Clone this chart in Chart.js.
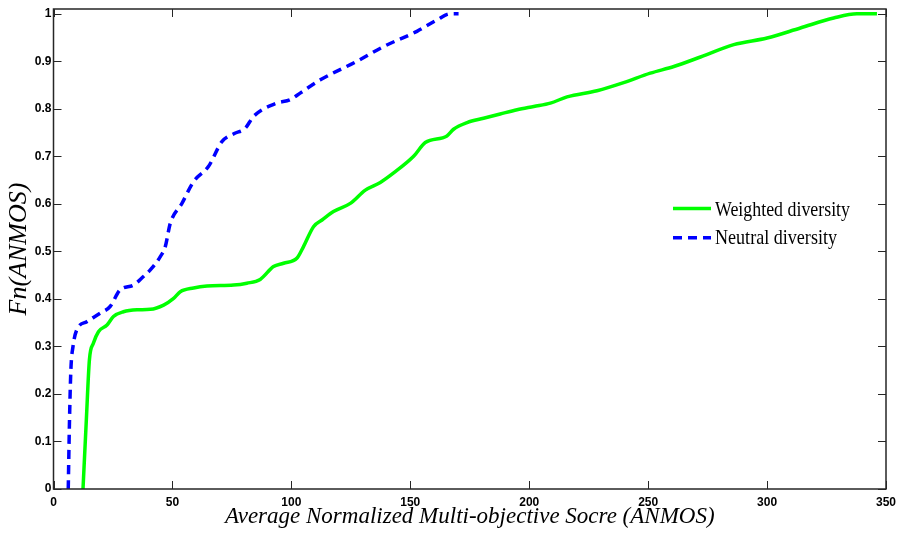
<!DOCTYPE html>
<html>
<head>
<meta charset="utf-8">
<script src="https://cdn.jsdelivr.net/npm/chart.js@4"></script>
<style>
html,body{margin:0;padding:0;background:#fff;}
canvas{display:block;}
</style>
</head>
<body>
<canvas id="c" width="898" height="536"></canvas>
<script>
// ---- data ----
const weightedX = [12.4, 13.8, 15.1, 16.8, 18.9, 22.5, 25.2, 29.4, 35.1, 40.7, 46.3, 50.5, 53.3, 58.9, 64.5, 75.7, 81.3, 86.9, 92.5, 96.7, 102.4, 105.1, 109.3, 112.9, 117.7, 124.8, 131.1, 137.4, 143, 151.4, 156.3, 165.4, 168.2, 173.9, 180.8, 187.8, 194.9, 201.9, 208.9, 215.9, 228.5, 239.7, 250.9, 260.8, 272, 286, 300, 314, 328, 337.8, 346.2];
const weightedY = [0, 0.145, 0.272, 0.307, 0.331, 0.345, 0.363, 0.373, 0.377, 0.378, 0.387, 0.401, 0.415, 0.423, 0.427, 0.429, 0.433, 0.441, 0.468, 0.475, 0.486, 0.510, 0.552, 0.566, 0.584, 0.601, 0.629, 0.645, 0.665, 0.700, 0.729, 0.743, 0.757, 0.771, 0.780, 0.789, 0.798, 0.805, 0.812, 0.825, 0.838, 0.855, 0.875, 0.889, 0.909, 0.935, 0.949, 0.970, 0.991, 1.0, 1.0];
const neutralX = [6.2, 6.7, 7.3, 8.2, 9.8, 14.0, 19.6, 23.8, 28, 33.6, 37.8, 40.7, 44.9, 47, 49.1, 54, 58.9, 65.2, 70.8, 76, 80.6, 84.1, 93.9, 99.5, 103.7, 112.2, 127.6, 138.8, 152.8, 161.2, 166.8, 170.3];
const neutralY = [0, 0.138, 0.25, 0.30, 0.335, 0.352, 0.37, 0.384, 0.419, 0.429, 0.447, 0.461, 0.489, 0.51, 0.559, 0.601, 0.647, 0.679, 0.731, 0.748, 0.759, 0.784, 0.812, 0.819, 0.833, 0.861, 0.900, 0.931, 0.963, 0.987, 1.0, 1.0];
const seriesNames = ["Weighted diversity", "Neutral diversity"];
const xTicks = [0, 50, 100, 150, 200, 250, 300, 350];
const yTicks = [0, 0.1, 0.2, 0.3, 0.4, 0.5, 0.6, 0.7, 0.8, 0.9, 1];
const xTitle = "Average Normalized Multi-objective Socre (ANMOS)";
const yTitle = "Fn(ANMOS)";

const toPts = (xs, ys) => xs.map((x, i) => ({x: x, y: ys[i]}));
const AXIS = '#262626';

const boxTicks = {
  id: 'boxTicks',
  afterDraw(chart) {
    const ctx = chart.ctx, a = chart.chartArea;
    const xs = chart.scales.x, ys = chart.scales.y;
    ctx.save();
    ctx.strokeStyle = AXIS;
    ctx.lineWidth = 1.5;
    ctx.strokeRect(a.left, a.top, a.right - a.left, a.bottom - a.top);
    ctx.lineWidth = 1;
    const L = 8;
    ctx.beginPath();
    xTicks.forEach(v => {
      const p = Math.round(xs.getPixelForValue(v)) + 0.5;
      ctx.moveTo(p, a.bottom); ctx.lineTo(p, a.bottom - L);
      ctx.moveTo(p, a.top); ctx.lineTo(p, a.top + L);
    });
    yTicks.forEach(v => {
      const p = Math.round(ys.getPixelForValue(v)) + 0.5;
      ctx.moveTo(a.left, p); ctx.lineTo(a.left + L, p);
      ctx.moveTo(a.right, p); ctx.lineTo(a.right - L, p);
    });
    ctx.stroke();

    // legend
    const lx0 = 673, lx1 = 711, tx = 715;
    const rows = [{y: 208.5, base: 215.7}, {y: 237.7, base: 244.3}];
    chart.data.datasets.forEach((ds, i) => {
      const r = rows[i];
      ctx.strokeStyle = ds.borderColor;
      ctx.lineWidth = ds.borderWidth;
      ctx.setLineDash(ds.borderDash || []);
      ctx.beginPath();
      ctx.moveTo(lx0, r.y); ctx.lineTo(lx1, r.y);
      ctx.stroke();
      ctx.setLineDash([]);
      ctx.fillStyle = '#000';
      ctx.font = '21px "Liberation Serif"';
      ctx.textBaseline = 'alphabetic';
      ctx.textAlign = 'left';
      ctx.fillText(ds.label, tx, r.base, i === 0 ? 135 : 122);
    });
    ctx.restore();
  }
};

new Chart(document.getElementById('c'), {
  type: 'line',
  data: {
    datasets: [
      {label: seriesNames[0], data: toPts(weightedX, weightedY), borderColor: '#00ff00', borderWidth: 3.5,
       pointRadius: 0, fill: false, cubicInterpolationMode: 'monotone'},
      {label: seriesNames[1], data: toPts(neutralX, neutralY), borderColor: '#0000ff', borderWidth: 3.5,
       borderDash: [9, 6], pointRadius: 0, fill: false, cubicInterpolationMode: 'monotone'}
    ]
  },
  options: {
    responsive: false,
    animation: false,
    layout: {padding: {top: 9, right: 12, left: 0, bottom: 0}},
    plugins: {legend: {display: false}, tooltip: {enabled: false}},
    scales: {
      x: {
        type: 'linear', min: 0, max: 350,
        afterBuildTicks(s) { s.ticks = xTicks.map(v => ({value: v})); },
        ticks: {color: '#000', font: {family: '"Liberation Sans"', size: 12, weight: 'bold'}, padding: 6, maxRotation: 0,
                callback: v => String(v)},
        grid: {drawOnChartArea: false, drawTicks: false},
        border: {display: false},
        title: {display: true, text: xTitle, color: '#000',
                font: {family: '"Liberation Serif"', size: 23, style: 'italic'}, padding: {top: 0, bottom: 5}},
        afterFit(s) { s.height = 47; s.paddingRight = 0; s.paddingLeft = 0; }
      },
      y: {
        type: 'linear', min: 0, max: 1.01,
        afterBuildTicks(s) { s.ticks = yTicks.map(v => ({value: v})); },
        ticks: {color: '#000', font: {family: '"Liberation Sans"', size: 12, weight: 'bold'}, padding: 2,
                callback: v => String(Math.round(v * 10) / 10)},
        grid: {drawOnChartArea: false, drawTicks: false},
        border: {display: false},
        title: {display: true, text: yTitle, color: '#000',
                font: {family: '"Liberation Serif"', size: 26, style: 'italic'}, padding: {top: 4, bottom: 0}},
        afterFit(s) { s.width = 53.5; s.paddingTop = 0; s.paddingBottom = 0; }
      }
    }
  },
  plugins: [boxTicks]
});
</script>
</body>
</html>
